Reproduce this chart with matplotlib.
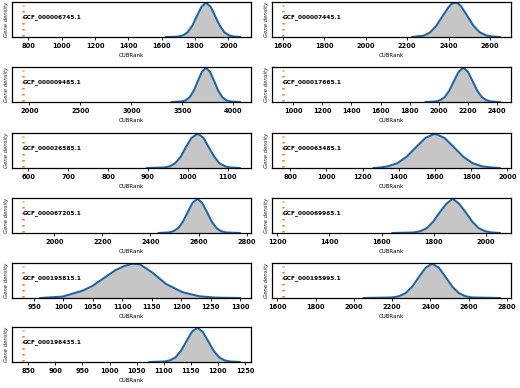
import matplotlib
matplotlib.use("Agg")
import matplotlib.pyplot as plt

# ---- data ----
names = ["GCF_000006745.1", "GCF_000007445.1", "GCF_000009485.1", "GCF_000017665.1",
         "GCF_000026585.1", "GCF_000063485.1", "GCF_000067205.1", "GCF_000069965.1",
         "GCF_000195815.1", "GCF_000195995.1", "GCF_000196435.1"]

observed = [767, 1600, 1936, 929, 586, 760, 1869, 1221, 931, 1629, 840]

xs1 = [1624, 1674, 1701, 1729, 1756, 1784, 1811, 1839, 1866, 1894, 1921, 1949, 1976, 2004, 2031, 2071]
ys1 = [0.0, 0.005, 0.015, 0.05, 0.14, 0.33, 0.61, 0.88, 1.0, 0.88, 0.61, 0.33, 0.14, 0.05, 0.015, 0.0]
xs2 = [2223, 2280, 2310, 2340, 2370, 2400, 2415, 2430, 2445, 2460, 2490, 2520, 2550, 2580, 2610, 2649]
ys2 = [0.0, 0.04, 0.13, 0.32, 0.6, 0.87, 0.97, 1.0, 0.98, 0.9, 0.62, 0.33, 0.14, 0.05, 0.015, 0.0]
xs3 = [3395, 3492, 3532, 3572, 3612, 3652, 3692, 3732, 3772, 3812, 3852, 3892, 3932, 3972, 4067]
ys3 = [0.0, 0.015, 0.05, 0.14, 0.33, 0.61, 0.88, 1.0, 0.88, 0.61, 0.33, 0.14, 0.05, 0.015, 0.0]
xs4 = [1907, 1975, 2007, 2039, 2071, 2103, 2135, 2167, 2199, 2231, 2263, 2295, 2327, 2359, 2420]
ys4 = [0.0, 0.015, 0.05, 0.14, 0.33, 0.61, 0.88, 1.0, 0.88, 0.61, 0.33, 0.14, 0.05, 0.015, 0.0]
xs5 = [897, 941, 955, 968, 982, 995, 1009, 1025, 1039, 1052, 1066, 1079, 1093, 1106, 1131]
ys5 = [0.0, 0.015, 0.05, 0.14, 0.33, 0.61, 0.88, 1.0, 0.88, 0.61, 0.33, 0.14, 0.05, 0.015, 0.0]
xs6 = [1260, 1300, 1340, 1392, 1444, 1496, 1548, 1600, 1652, 1704, 1756, 1808, 1860, 1912, 1960]
ys6 = [0.0, 0.015, 0.05, 0.14, 0.33, 0.61, 0.88, 1.0, 0.88, 0.61, 0.33, 0.14, 0.05, 0.015, 0.0]
xs7 = [2433, 2475, 2495, 2515, 2535, 2555, 2575, 2595, 2615, 2635, 2655, 2675, 2695, 2715, 2773]
ys7 = [0.0, 0.015, 0.05, 0.14, 0.33, 0.61, 0.88, 1.0, 0.88, 0.61, 0.33, 0.14, 0.05, 0.015, 0.0]
xs8 = [1640, 1723, 1748, 1773, 1798, 1823, 1848, 1873, 1898, 1923, 1948, 1973, 1998, 2023, 2055]
ys8 = [0.0, 0.015, 0.05, 0.14, 0.33, 0.6, 0.85, 1.0, 0.85, 0.6, 0.33, 0.14, 0.05, 0.015, 0.0]
xs9 = [960, 998, 1032, 1049, 1072, 1089, 1103, 1117, 1130, 1151, 1174, 1202, 1231, 1259, 1300]
ys9 = [0.0, 0.04, 0.21, 0.35, 0.62, 0.82, 0.93, 1.0, 0.98, 0.74, 0.41, 0.17, 0.05, 0.01, 0.0]
xs10 = [2050, 2200, 2235, 2270, 2305, 2340, 2375, 2410, 2445, 2480, 2515, 2550, 2585, 2620, 2765]
ys10 = [0.0, 0.015, 0.05, 0.14, 0.33, 0.61, 0.88, 1.0, 0.88, 0.61, 0.33, 0.14, 0.05, 0.015, 0.0]
xs11 = [1073, 1102, 1112, 1122, 1132, 1142, 1152, 1162, 1172, 1182, 1192, 1202, 1212, 1222, 1241]
ys11 = [0.0, 0.015, 0.05, 0.14, 0.33, 0.61, 0.88, 1.0, 0.88, 0.61, 0.33, 0.14, 0.05, 0.015, 0.0]

curves_x = [xs1, xs2, xs3, xs4, xs5, xs6, xs7, xs8, xs9, xs10, xs11]
curves_y = [ys1, ys2, ys3, ys4, ys5, ys6, ys7, ys8, ys9, ys10, ys11]

ticks = [
    [800, 1000, 1200, 1400, 1600, 1800, 2000],
    [1600, 1800, 2000, 2200, 2400, 2600],
    [2000, 2500, 3000, 3500, 4000],
    [1000, 1200, 1400, 1600, 1800, 2000, 2200, 2400],
    [600, 700, 800, 900, 1000, 1100],
    [800, 1000, 1200, 1400, 1600, 1800, 2000],
    [2000, 2200, 2400, 2600, 2800],
    [1200, 1400, 1600, 1800, 2000],
    [950, 1000, 1050, 1100, 1150, 1200, 1250, 1300],
    [1600, 1800, 2000, 2200, 2400, 2600, 2800],
    [850, 900, 950, 1000, 1050, 1100, 1150, 1200, 1250],
]

# ---- figure ----
W, H = 520, 388
fig = plt.figure(figsize=(W / 100, H / 100), dpi=100)

col_left = [12, 272]
ax_w = 239
row_top = [2, 67, 133, 198, 263, 327]
ax_h = 35

line_color = "#1c64a4"
fill_color = "#c6c6c6"
obs_color = "#f07d1e"

for i, name in enumerate(names):
    r, c = divmod(i, 2)
    ax = fig.add_axes([col_left[c] / W, 1 - (row_top[r] + ax_h) / H, ax_w / W, ax_h / H])
    x = curves_x[i]
    y = curves_y[i]
    ax.fill_between(x, 0, y, color=fill_color, lw=0)
    ax.plot(x, y, color=line_color, lw=1.45, solid_capstyle="round", solid_joinstyle="round")
    ax.axvline(observed[i], ymin=0.02, ymax=0.92, color=obs_color, lw=1.8,
               linestyle=(0, (0.6, 1.8)), dash_capstyle="butt")
    ax.text(observed[i], 0.58, name, transform=ax.get_xaxis_transform(),
            ha="left", va="center", fontsize=4.2, fontweight="bold")
    ax.margins(x=0.05)
    ax.set_ylim(0, 1.02)
    ax.set_yticks([])
    ax.set_xticks(ticks[i])
    ax.tick_params(axis="x", length=2.5, width=0.6, pad=2, labelsize=4.8)
    for lab in ax.get_xticklabels():
        lab.set_fontweight("bold")
    ax.set_xlabel("CUBRank", fontsize=4.0, labelpad=2.5)
    ax.set_ylabel("Gene density", fontsize=3.9, style="italic", labelpad=2, color="#222222")
    for s in ax.spines.values():
        s.set_linewidth(0.9)
        s.set_color("black")

fig.savefig("out.png", dpi=100)
